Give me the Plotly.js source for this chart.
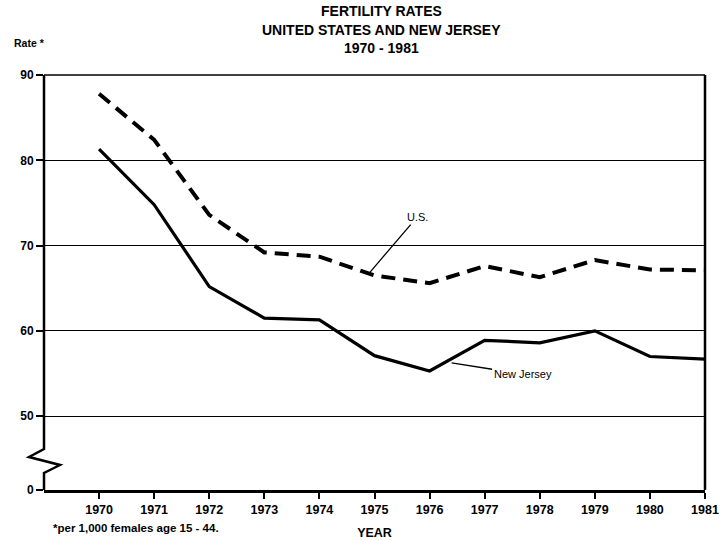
<!DOCTYPE html>
<html>
<head>
<meta charset="utf-8">
<script src="https://cdn.plot.ly/plotly-3.0.1.min.js"></script>
<style>html,body{margin:0;padding:0;background:#fff;}</style>
</head>
<body>
<div id="chart" style="width:725px;height:540px;"></div>
<script>
// ---- data ----
const years = [1970, 1971, 1972, 1973, 1974, 1975, 1976, 1977, 1978, 1979, 1980, 1981];
const usRate = [87.8, 82.4, 73.6, 69.2, 68.7, 66.5, 65.6, 67.6, 66.3, 68.3, 67.2, 67.1];
const njRate = [81.3, 74.8, 65.2, 61.5, 61.3, 57.1, 55.3, 58.9, 58.6, 60.0, 57.0, 56.7];
const yBreakBase = 41.35;           // axis position shown as "0" below the break
const yTickVals = [yBreakBase, 50, 60, 70, 80, 90];
const yTickText = ['0', '50', '60', '70', '80', '90'];
const xTickText = years.map(String);
const titleLines = ['FERTILITY RATES', 'UNITED STATES AND NEW JERSEY', '1970 - 1981'];

// ---- layout geometry (pixels) ----
const W = 725, H = 540;
const M = {l: 44, r: 20, t: 75, b: 50};
const pw = W - M.l - M.r, ph = H - M.t - M.b;
const px = x => (x - M.l) / pw;          // pixel -> paper x
const py = y => (H - M.b - y) / ph;      // pixel -> paper y

const FONT = 'Liberation Sans, Arial, sans-serif';

const traces = [
  {x: years, y: usRate, mode: 'lines', name: 'U.S.',
   line: {color: '#000', width: 4, dash: '14px,8px'}, hoverinfo: 'skip'},
  {x: years, y: njRate, mode: 'lines', name: 'New Jersey',
   line: {color: '#000', width: 3.2}, hoverinfo: 'skip'}
];

const breakPath = 'M ' + px(44) + ',' + py(75) +
  ' L ' + px(44) + ',' + py(449) +
  ' L ' + px(29) + ',' + py(457) +
  ' L ' + px(60) + ',' + py(465) +
  ' L ' + px(44) + ',' + py(473) +
  ' L ' + px(44) + ',' + py(490);

const titleY = [11, 30, 48];
const titleAnns = titleLines.map((t, i) => ({
  text: t, xref: 'paper', yref: 'paper', x: px(381), y: py(titleY[i]),
  xanchor: 'center', yanchor: 'middle', showarrow: false,
  font: {family: FONT, size: 14, weight: 'bold'}
}));

const layout = {
  width: W, height: H,
  margin: M,
  paper_bgcolor: '#fff', plot_bgcolor: '#fff',
  showlegend: false,
  font: {family: FONT, color: '#000'},
  xaxis: {
    range: [1969, 1981],
    tickvals: years, ticktext: xTickText,
    ticks: 'outside', ticklen: 6, tickwidth: 2, tickcolor: '#000',
    showline: true, linewidth: 2.5, linecolor: '#000',
    showgrid: false, zeroline: false,
    tickfont: {family: FONT, size: 12.5, weight: 'bold'},
    title: {text: 'YEAR', font: {family: FONT, size: 12.5, weight: 'bold'}, standoff: 13}
  },
  yaxis: {
    range: [yBreakBase, 90],
    tickvals: yTickVals, ticktext: yTickText,
    ticks: 'outside', ticklen: 7, tickwidth: 2, tickcolor: '#000',
    showline: false, zeroline: false,
    showgrid: true, gridcolor: '#000', gridwidth: 1,
    tickfont: {family: FONT, size: 12, weight: 'bold'}
  },
  shapes: [
    {type: 'path', xref: 'paper', yref: 'paper', path: breakPath,
     line: {color: '#000', width: 2.5}, layer: 'above'},
    {type: 'line', xref: 'paper', yref: 'paper', x0: 1, x1: 1, y0: 0, y1: 1,
     line: {color: '#000', width: 2.5}, layer: 'above'},
    {type: 'line', xref: 'paper', yref: 'paper', x0: 0, x1: 1, y0: 1, y1: 1,
     line: {color: '#000', width: 1.5}, layer: 'above'}
  ],
  annotations: titleAnns.concat([
    {text: 'Rate *', xref: 'paper', yref: 'paper', x: px(12), y: py(43),
     xanchor: 'left', yanchor: 'middle', showarrow: false,
     font: {family: FONT, size: 10.5, weight: 'bold'}},
    {text: '*per 1,000 females age 15 - 44.', xref: 'paper', yref: 'paper',
     x: px(51), y: py(528), xanchor: 'left', yanchor: 'middle', showarrow: false,
     font: {family: FONT, size: 11.5, weight: 'bold'}},
    {text: 'U.S.', x: 1974.92, y: 66.9, xref: 'x', yref: 'y',
     showarrow: true, arrowhead: 0, arrowwidth: 1.3, arrowcolor: '#000',
     ax: 47, ay: -55, font: {family: FONT, size: 11}},
    {text: 'New Jersey', x: 1976.40, y: 56.24, xref: 'x', yref: 'y',
     showarrow: true, arrowhead: 0, arrowwidth: 1.3, arrowcolor: '#000',
     ax: 71, ay: 11, font: {family: FONT, size: 11}}
  ])
};

Plotly.newPlot('chart', traces, layout, {displayModeBar: false, staticPlot: true});
</script>
</body>
</html>
